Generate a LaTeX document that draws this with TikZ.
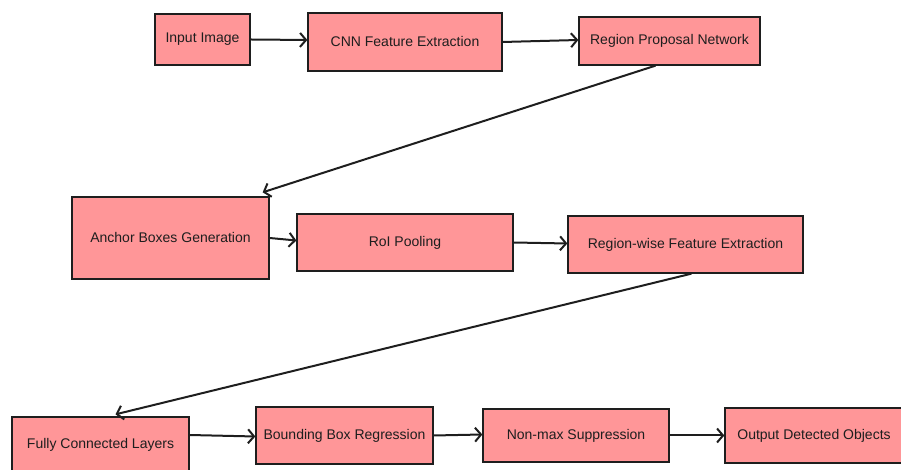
\documentclass[tikz,border=0pt]{standalone}
\usepackage{fontspec}
\setmainfont{Liberation Sans}
\usepackage{xcolor}
\usepackage{tikz}
\usetikzlibrary{positioning}
\usetikzlibrary{arrows.meta}
\definecolor{boxred}{RGB}{255,150,152}
\definecolor{inkdark}{HTML}{1E1E1E}
\tikzset {
  % pipeline stage box
  stage/.style = {draw=inkdark, fill=boxred, line width=1.3pt, text=inkdark,
    font=\fontsize{14}{16}\selectfont, inner sep=0pt},
  % arrows between stages
  flow/.style = {draw=inkdark, line width=2pt,
    -{Straight Barb[length=6pt,width=14pt]}},
}

\begin{document}
\begin{tikzpicture}[x=1pt, y=1pt]
        \useasboundingbox (0,0) rectangle (901,470);

        % first row
        \node[stage, minimum width=95pt, minimum height=51pt] (inp) at (202.5,430.5) {Input Image};
        \node[stage, minimum width=194pt, minimum height=58pt] (cnn) at (405,428) {CNN Feature Extraction};
        \node[stage, minimum width=181pt, minimum height=48pt] (rpn) at (669.5,429) {Region Proposal Network};

        % second row
        \node[stage, minimum width=197pt, minimum height=82pt] (anc) at (170.5,232) {Anchor Boxes Generation};
        \node[stage, minimum width=216pt, minimum height=57pt] (roi) at (405,227.5) {RoI Pooling};
        \node[stage, minimum width=235pt, minimum height=57pt] (rwf) at (685.5,225.5) {Region-wise Feature Extraction};

        % third row
        \node[stage, minimum width=177pt, minimum height=56pt] (fcl) at (100.5,25) {Fully Connected Layers};
        \node[stage, minimum width=177pt, minimum height=57pt] (bbr) at (344.5,34.5) {Bounding Box Regression};
        \node[stage, minimum width=186pt, minimum height=53pt] (nms) at (576,34.5) {Non-max Suppression};
        \node[stage, minimum width=178pt, minimum height=55pt] (out) at (814,34.5) {Output Detected Objects};

        \draw [flow] (inp.east) -- ([yshift=2pt]cnn.west);
        \draw [flow] (cnn.east) -- ([yshift=1pt]rpn.west);
        \draw [flow] ([xshift=-14pt]rpn.south) -- ([shift={(-7pt,4pt)}]anc.north east);
        \draw [flow] (anc.east) -- ([yshift=2pt]roi.west);
        \draw [flow] (roi.east) -- ([yshift=1pt]rwf.west);
        \draw [flow] ([xshift=6pt]rwf.south) -- ([shift={(15pt,2pt)}]fcl.north);
        \draw [flow] ([yshift=10pt]fcl.east) -- ([yshift=-1pt]bbr.west);
        \draw [flow] (bbr.east) -- ([yshift=1pt]nms.west);
        \draw [flow] (nms.east) -- (out.west);
      \end{tikzpicture}
\end{document}
